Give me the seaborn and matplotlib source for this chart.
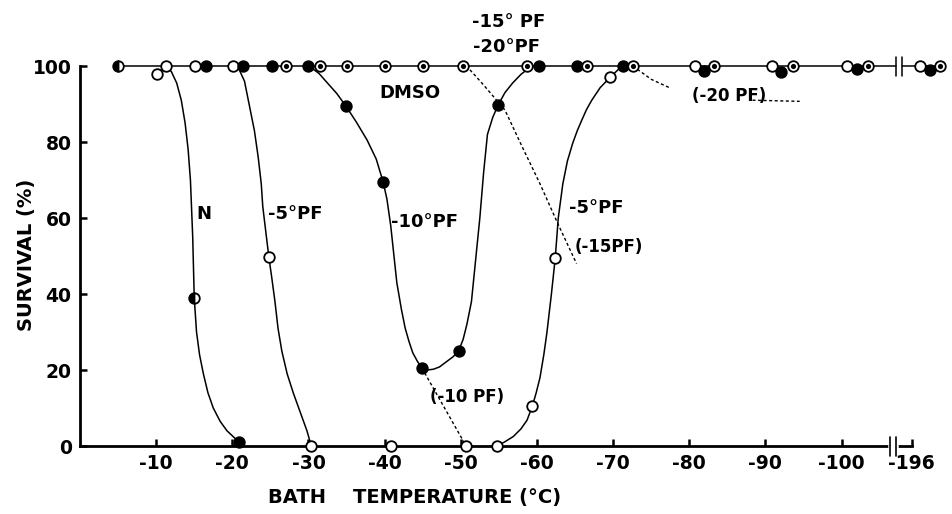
import matplotlib
matplotlib.use("Agg")
import matplotlib.pyplot as plt
import seaborn as sns
import pandas as pd

# ---------------- data (x = plotted position on the broken axis) ----------
# -196 °C is drawn at axis position -109.2 (after the axis break)
X_TICKS = [-10, -20, -30, -40, -50, -60, -70, -80, -90, -100, -109.2]
X_TICK_LABELS = ["-10", "-20", "-30", "-40", "-50", "-60", "-70", "-80", "-90", "-100", "-196"]
Y_TICKS = [0, 20, 40, 60, 80, 100]

# marker groups
open_T = [-10.1, -11.3, -15.1, -20.1, -24.8, -30.3, -40.8, -50.7, -54.7, -59.4, -62.4, -69.6,
          -80.8, -90.8, -100.7, -110.3]
open_S = [98, 100, 100, 100, 49.7, 0, 0, 0, 0, 10.5, 49.4, 97,
          100, 100, 100, 100]
filled_T = [-16.5, -21.4, -25.2, -30.0, -34.9, -39.8, -44.9, -49.7, -54.9, -60.3, -65.2, -71.3,
            -82.0, -92.1, -102.0, -111.6, -20.9]
filled_S = [100, 100, 100, 100, 89.5, 69.5, 20.5, 25, 89.7, 100, 100, 100,
            98.8, 98.5, 99.3, 99, 1]
dotted_T = [-27.0, -31.5, -35.0, -40.0, -45.0, -50.3, -58.7, -66.6, -72.6, -83.3, -93.6, -103.5, -112.9]
dotted_S = [100, 100, 100, 100, 100, 100, 100, 100, 100, 100, 100, 100, 100]
half_T = [-5.0, -15.0]
half_S = [100, 39]

# hand-drawn curves
N_T = [-11.3, -12.0, -12.7, -13.3, -13.8, -14.2, -14.5, -14.8, -15.0, -15.3, -15.7, -16.2, -16.8,
       -17.5, -18.4, -19.3, -20.9]
N_S = [100, 98.5, 95.5, 91, 85, 78, 70, 55, 39, 30, 24, 19, 14, 10, 6.5, 4, 1]
PF5A_T = [-20.8, -21.6, -22.3, -22.9, -23.4, -23.8, -24.0, -24.3, -24.8, -25.2, -25.6, -26.0,
          -26.5, -27.2, -28.0, -28.9, -29.8, -30.3]
PF5A_S = [99.5, 96, 89, 83, 76, 69, 63, 58, 49.7, 44, 38, 31, 25, 19, 14, 9, 4, 0.5]
PF10_T = [-30.4, -31.4, -32.5, -33.7, -34.9, -36.3, -37.7, -38.9, -39.8, -40.3, -40.8, -41.6,
          -42.2, -42.7, -43.2, -43.7, -44.3, -44.9, -45.6, -46.4, -47.2, -48.0, -49.0,
          -49.7, -50.3, -50.8, -51.4, -51.9, -52.5, -53.0, -53.5, -54.2, -54.9, -55.8,
          -56.8, -57.9, -59.0, -60.0]
PF10_S = [99.5, 98, 95.5, 92.8, 89.5, 85.2, 80.5, 75.5, 69.5, 65, 58, 43,
          36, 31, 27.5, 24.5, 22.3, 20.5, 20.0, 20.2, 20.8, 22, 23.5,
          25, 28, 32, 38, 48, 60, 72, 82, 86.5, 89.7, 93,
          95.5, 97.8, 99.5, 100]
PF5B_T = [-54.7, -55.7, -56.9, -57.9, -58.7, -59.4, -59.9, -60.4, -60.9, -61.3, -61.9, -62.4,
          -62.8, -63.4, -64.0, -64.7, -65.3, -65.9, -66.5, -67.2, -68.3, -69.6, -70.9]
PF5B_S = [0, 1, 2.5, 4.5, 6.8, 10.5, 14, 18, 24, 29.7, 40, 49.4,
          60, 69, 75, 79.7, 83, 85.8, 88.5, 91, 94.3, 97, 99.5]

# dotted (parenthesised) curves
D10_T = [-44.9, -50.7]
D10_S = [20.5, 0]
D15_T = [-51.2, -53.0, -55.8, -58.0, -60.4, -62.7, -65.2]
D15_S = [99, 95, 88.4, 79, 69, 58.7, 48]
D20A_T = [-72.6, -75.0, -77.5]
D20A_S = [100, 96.5, 94.2]
D20B_T = [-88.3, -94.5]
D20B_S = [91, 90.7]

BREAK_TOP = [-107.2, -107.9]
BREAK_AXIS = [-106.3, -107.1]

# ---------------- figure ----------------
sns.set_style("ticks")
plt.rcParams["font.family"] = ["DejaVu Sans"]
plt.rcParams["font.weight"] = "bold"
for key in ["text.color", "axes.labelcolor", "xtick.color", "ytick.color", "axes.edgecolor"]:
    plt.rcParams[key] = "black"

fig = plt.figure(figsize=(9.53, 5.14), dpi=100)
ax = fig.add_axes([80 / 953, 68 / 514, 872 / 953, 117 * 3.8 / 514])
ax.set_xlim(0, -114.5)
ax.set_ylim(0, 117)

LW = 1.1
def curve(T, S, dotted=False):
    df = pd.DataFrame({"T": T, "S": S})
    sns.lineplot(data=df, x="T", y="S", sort=False, estimator=None, color="black",
                 lw=LW if not dotted else 1.0,
                 linestyle=(0, (2.2, 1.8)) if dotted else "-", ax=ax, zorder=3,
                 clip_on=False)

# top horizontal line (100 %) with break
top_left = [x for x in open_T + filled_T + dotted_T + half_T if x > BREAK_TOP[0]]
top_right = [x for x in open_T + filled_T + dotted_T if x < BREAK_TOP[1]]
curve([max(top_left), BREAK_TOP[0]], [100, 100])
curve([BREAK_TOP[1], min(top_right)], [100, 100])
for bx in BREAK_TOP:
    ax.plot([bx, bx], [97.5, 102.5], color="black", lw=1.1, zorder=3)

for T, S in [(N_T, N_S), (PF5A_T, PF5A_S), (PF10_T, PF10_S), (PF5B_T, PF5B_S)]:
    curve(T, S)
for T, S in [(D10_T, D10_S), (D15_T, D15_S), (D20A_T, D20A_S), (D20B_T, D20B_S)]:
    curve(T, S, dotted=True)

MS = 58
sns.scatterplot(x=open_T, y=open_S, marker="o", s=MS, color="white", edgecolor="black",
                linewidth=1.3, zorder=5, clip_on=False, ax=ax)
sns.scatterplot(x=filled_T, y=filled_S, marker="o", s=MS, color="black", edgecolor="black",
                linewidth=1.3, zorder=5, clip_on=False, ax=ax)
sns.scatterplot(x=dotted_T, y=dotted_S, marker="o", s=MS, color="white", edgecolor="black",
                linewidth=1.3, zorder=5, clip_on=False, ax=ax)
sns.scatterplot(x=dotted_T, y=dotted_S, marker="o", s=14, color="black", edgecolor="black",
                linewidth=0, zorder=6, clip_on=False, ax=ax)
ax.plot(half_T, half_S, "o", ms=7.6, fillstyle="left", markerfacecolor="black",
        markerfacecoloralt="white", markeredgecolor="black", mew=1.3, zorder=5, clip_on=False)

# ---------------- axes styling ----------------
sns.despine(ax=ax)
ax.spines["left"].set_linewidth(2.0)
ax.spines["bottom"].set_linewidth(2.0)
ax.spines["left"].set_bounds(0, 100)
ax.spines["bottom"].set_bounds(0, X_TICKS[-1])
# axis break
ax.plot(BREAK_AXIS, [0, 0], color="white", lw=3.5, zorder=4, clip_on=False)
for bx in BREAK_AXIS:
    ax.plot([bx, bx], [-2.5, 2.5], color="black", lw=1.2, zorder=5, clip_on=False)

ax.set_xticks(X_TICKS)
ax.set_xticklabels(X_TICK_LABELS)
ax.set_yticks(Y_TICKS)
ax.set_yticklabels([str(v) for v in Y_TICKS])
ax.tick_params(axis="both", direction="in", length=5, width=1.8, labelsize=13.5, pad=6,
               colors="black")
for lab in ax.get_xticklabels() + ax.get_yticklabels():
    lab.set_fontweight("bold")
ax.get_xticklabels()[-1].set_x(X_TICKS[-1])

ax.set_xlabel("BATH    TEMPERATURE (°C)", fontsize=14, fontweight="bold", color="black")
ax.xaxis.label.set_va("center")
ax.xaxis.set_label_coords((415 - 80) / 872, (446 - 498) / 444.6)
ax.set_ylabel("SURVIVAL (%)", fontsize=14, fontweight="bold", color="black")
ax.yaxis.label.set_va("center")
ax.yaxis.set_label_coords((27 - 80) / 872, (446 - 255) / 444.6)

# ---------------- annotations ----------------
def label(x, y, s, size=13):
    ax.text(x, y, s, ha="center", va="center", fontsize=size, fontweight="bold", zorder=7,
            color="black")

label(-16.3, 61, "N")
label(-28.2, 61, "-5°PF")
label(-45.2, 59, "-10°PF")
label(-43.3, 93, "DMSO")
label(-56.3, 111.6, "-15° PF")
label(-56.0, 105, "-20°PF")
label(-67.8, 62.6, "-5°PF")
label(-69.4, 52.4, "(-15PF)", size=12)
label(-50.8, 13, "(-10 PF)", size=12)
label(-85.3, 92, "(-20 PF)", size=12)

fig.savefig("out.png", dpi=100)
